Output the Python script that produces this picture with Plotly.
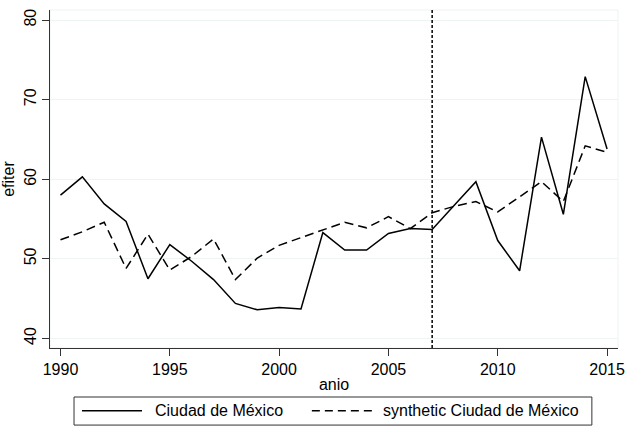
import plotly.graph_objects as go

years = list(range(1990, 2016))
cdmx = [58.0, 60.3, 56.9, 54.7, 47.5, 51.8, 49.7, 47.4, 44.4, 43.6, 43.9, 43.7, 53.3,
        51.1, 51.1, 53.2, 53.8, 53.7, 56.7, 59.7, 52.3, 48.5, 65.3, 55.6, 72.9, 63.8]
synth = [52.4, 53.4, 54.6, 48.8, 53.1, 48.6, 50.3, 52.5, 47.4, 50.1, 51.7, 52.7, 53.6,
         54.6, 53.9, 55.3, 53.8, 55.8, 56.6, 57.2, 55.9, 57.8, 59.7, 57.2, 64.2, 63.4]
treat_year = 2007
x_ticks = [1990, 1995, 2000, 2005, 2010, 2015]
y_ticks = [40, 50, 60, 70, 80]
name_real = "Ciudad de México"
name_synth = "synthetic Ciudad de México"

font = "Liberation Sans, Arial, sans-serif"
solid = dict(color="black", width=1.5)
dashed = dict(color="black", width=1.5, dash="9px,5px")

fig = go.Figure()
fig.add_trace(go.Scatter(x=years, y=cdmx, mode="lines", name=name_real, line=solid))
fig.add_trace(go.Scatter(x=years, y=synth, mode="lines", name=name_synth, line=dashed))

fig.add_shape(type="line", x0=treat_year, x1=treat_year, y0=0, y1=1, xref="x", yref="paper",
              line=dict(color="black", width=1.5, dash="3px,2px"))
# faint plot-region frame (top/right)
fig.add_shape(type="rect", x0=0, x1=1, y0=0, y1=1, xref="paper", yref="paper",
              line=dict(color="#eef3f3", width=1), layer="below")

# legend box (drawn below plot, Stata style)
fig.add_shape(type="rect", x0=0.0423, x1=0.954, y0=-0.228, y1=-0.145, xref="paper", yref="paper",
              line=dict(color="#333333", width=1))
fig.add_shape(type="line", x0=0.0563, x1=0.162, y0=-0.186, y1=-0.186, xref="paper", yref="paper",
              line=solid)
fig.add_shape(type="line", x0=0.461, x1=0.570, y0=-0.186, y1=-0.186, xref="paper", yref="paper",
              line=dict(color="black", width=1.5, dash="8px,5px"))
fig.add_annotation(text=name_real, x=0.181, y=-0.186, xref="paper", yref="paper",
                   xanchor="left", yanchor="middle", showarrow=False, font=dict(size=16))
fig.add_annotation(text=name_synth, x=0.583, y=-0.186, xref="paper", yref="paper",
                   xanchor="left", yanchor="middle", showarrow=False, font=dict(size=16))

fig.update_layout(
    width=627, height=428,
    margin=dict(l=50, r=9, t=10, b=80),
    paper_bgcolor="white", plot_bgcolor="white",
    font=dict(family=font, size=16, color="black"),
    showlegend=False,
    xaxis=dict(range=[1989.52, 2015.5], tickvals=x_ticks, ticks="outside", ticklen=7,
               tickcolor="#333333", showline=True, linecolor="#333333", linewidth=1.2,
               showgrid=False, zeroline=False, ticklabeloverflow="allow", automargin=False,
               title=dict(text="anio", font=dict(size=16), standoff=1)),
    yaxis=dict(range=[38.8, 81.27], tickvals=y_ticks, ticks="outside", ticklen=7,
               tickcolor="#333333", showline=True, linecolor="#333333", linewidth=1.2,
               showgrid=True, gridcolor="#eef3f3", gridwidth=1, zeroline=False,
               tickangle=-90, automargin=False,
               title=dict(text="efiter", font=dict(size=16), standoff=6)),
)

fig.write_html("out.html", post_script="document.body.style.margin='0';",
               config={"displayModeBar": False})
